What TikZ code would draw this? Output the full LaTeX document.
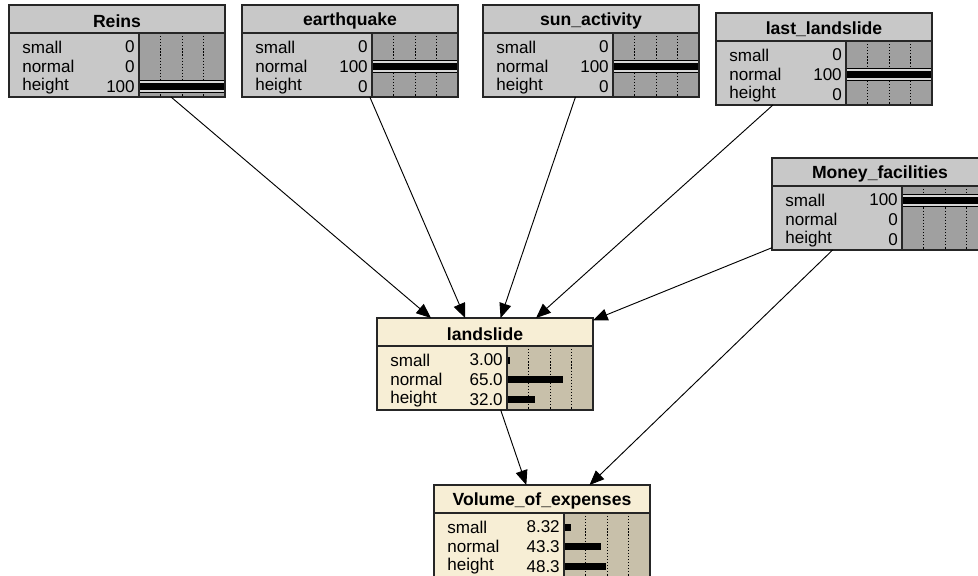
\documentclass[tikz,border=0pt]{standalone}
\usepackage{fontspec}
\setmainfont{Liberation Sans}
\usetikzlibrary{arrows.meta}

\definecolor{greyBody}{RGB}{200,200,200}
\definecolor{greyBar}{RGB}{160,160,160}
\definecolor{greyRim}{RGB}{215,215,215}
\definecolor{tanBody}{RGB}{247,238,213}
\definecolor{tanBar}{RGB}{200,192,170}
\definecolor{tanRim}{RGB}{225,218,200}

\tikzset{
  monbox/.style={draw=black!85, line width=1pt, rectangle, minimum width=162pt,
    minimum height=69pt, inner sep=0pt, outer sep=0pt},
  titletext/.style={font=\fontsize{13.2}{15}\selectfont\bfseries},
  rowtext/.style={font=\fontsize{12.8}{15}\selectfont, inner sep=0pt},
  tick/.style={dash pattern=on 0.9pt off 1.4pt, line width=0.7pt},
  link/.style={line width=0.7pt, -{Triangle[length=11pt,width=9pt]}},
}

% #1 name, #2 title, #3 left, #4 top, #5 colour (grey/tan), #6-#8 values
\newcommand{\monitor}[8]{%
  \node[monbox, fill=#5Body] (#1) at (#3+108,#4+46) {};
  \begin{scope}[shift={(#1.north west)}]
    \fill[#5Bar] (130,28) rectangle (216,92);
    \foreach \q in {1,2,3}
      \draw[tick] ({130+21.5*\q},28) -- ({130+21.5*\q},92);
    \foreach \lab/\val [count=\row from 0] in {small/#6,normal/#7,height/#8}{
      \node[rowtext, anchor=west] at (13,{42+19.7*\row}) {\lab};
      \node[rowtext, anchor=east] at (126,{42+19.7*\row}) {\val};
      \ifdim\val pt>99pt
        \filldraw[fill=#5Rim, draw=black, line width=0.5pt]
          (130,{36+19.7*\row}) rectangle (216,{48+19.7*\row});
      \fi
      \fill (130,{38.5+19.7*\row}) rectangle ({130+0.86*\val},{45.5+19.7*\row});
    }
    \draw[line width=1pt, black!85] (0,28) -- (216,28) (130,28) -- (130,92);
    \node[titletext] at (108,16) {#2};
    \draw[line width=1pt, black!85] (0,0) rectangle (216,92);
  \end{scope}
}

\begin{document}
\begin{tikzpicture}[x=0.75pt, y=-0.75pt]
  \useasboundingbox (0,0) rectangle (978,575);
  \clip (0,0) rectangle (978,575);

  % evidence nodes
  \monitor{reins}{Reins}{9}{5}{grey}{0}{0}{100}
  \monitor{quake}{earthquake}{242}{5}{grey}{0}{100}{0}
  \monitor{sun}{sun\_activity}{483}{5}{grey}{0}{100}{0}
  \monitor{last}{last\_landslide}{716}{13}{grey}{0}{100}{0}
  \monitor{money}{Money\_facilities}{772}{158}{grey}{100}{0}{0}

  % inferred nodes
  \monitor{slide}{landslide}{377}{318}{tan}{3.00}{65.0}{32.0}
  \monitor{volume}{Volume\_of\_expenses}{434}{485}{tan}{8.32}{43.3}{48.3}

  \draw[link] (reins) -- (slide);
  \draw[link] (quake) -- (slide);
  \draw[link] (sun) -- (slide);
  \draw[link] (last) -- (slide);
  \draw[link] (money) -- (slide);
  \draw[link] (money) -- (volume);
  \draw[link] (slide) -- (volume);
\end{tikzpicture}
\end{document}
